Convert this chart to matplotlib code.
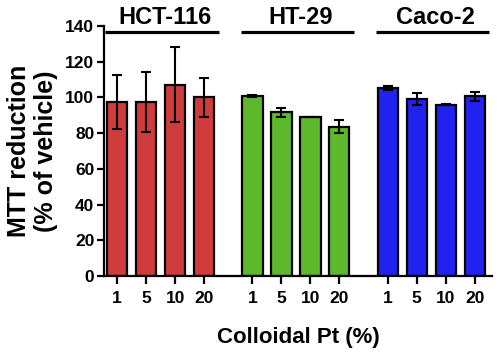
import numpy as np
import matplotlib
matplotlib.use("Agg")
import matplotlib.pyplot as plt

plt.rcParams['font.family'] = ['Liberation Sans', 'DejaVu Sans']
plt.rcParams['font.weight'] = 'bold'

# data
cell_lines = ["HCT-116", "HT-29", "Caco-2"]
doses = ["1", "5", "10", "20"]
means = [
    [97.5, 97.5, 107, 100],
    [100.7, 91.7, 89.2, 83.6],
    [105.3, 99, 96, 100.6],
]
errors = [
    [15, 17, 21, 11],
    [0.5, 2.5, 0, 3.5],
    [1, 3.5, 0.5, 2.5],
]
colors = ["#D03B3B", "#5DB82B", "#2222F0"]

fig = plt.figure(figsize=(4.97, 3.55), dpi=100)
ax = fig.add_axes([0.2093, 0.2225, 0.7807, 0.7043])

group_start = [0, 4.67, 9.33]
all_x = []
for g in range(len(cell_lines)):
    x = group_start[g] + np.arange(len(doses))
    all_x.extend(x)
    ax.bar(x, means[g], width=0.69, color=colors[g], edgecolor="black",
           linewidth=1.6, zorder=2)
    ax.errorbar(x, means[g], yerr=errors[g], fmt="none", ecolor="black",
                elinewidth=1.5, capsize=3.5, capthick=1.5, zorder=3)
    # group label with line
    xc = x.mean() + 0.05
    ax.plot([xc - 1.95, xc + 1.95], [136.6, 136.6], color="black",
            linewidth=2.3, clip_on=False, solid_capstyle="butt")
    ax.text(xc + 0.1, 141, cell_lines[g], ha="center", va="baseline",
            fontsize=17, fontweight="bold")

ax.set_xlim(-0.45, 12.93)
ax.set_ylim(0, 140)
ax.set_yticks(range(0, 141, 20))
ax.set_xticks(all_x)
ax.set_xticklabels(doses * 3)

for s in ["top", "right"]:
    ax.spines[s].set_visible(False)
for s in ["left", "bottom"]:
    ax.spines[s].set_linewidth(1.6)

ax.tick_params(axis="both", width=1.6, labelsize=12.5)
ax.tick_params(axis="y", length=5, pad=2)
ax.tick_params(axis="x", length=6, pad=5)
for lbl in ax.get_xticklabels() + ax.get_yticklabels():
    lbl.set_fontweight("bold")

ax.set_ylabel("MTT reduction\n(% of vehicle)", fontsize=18, fontweight="bold",
              linespacing=1.15, labelpad=5)
ax.set_xlabel("Colloidal Pt (%)", fontsize=16, fontweight="bold", labelpad=15)

fig.savefig("out.png", dpi=100)
